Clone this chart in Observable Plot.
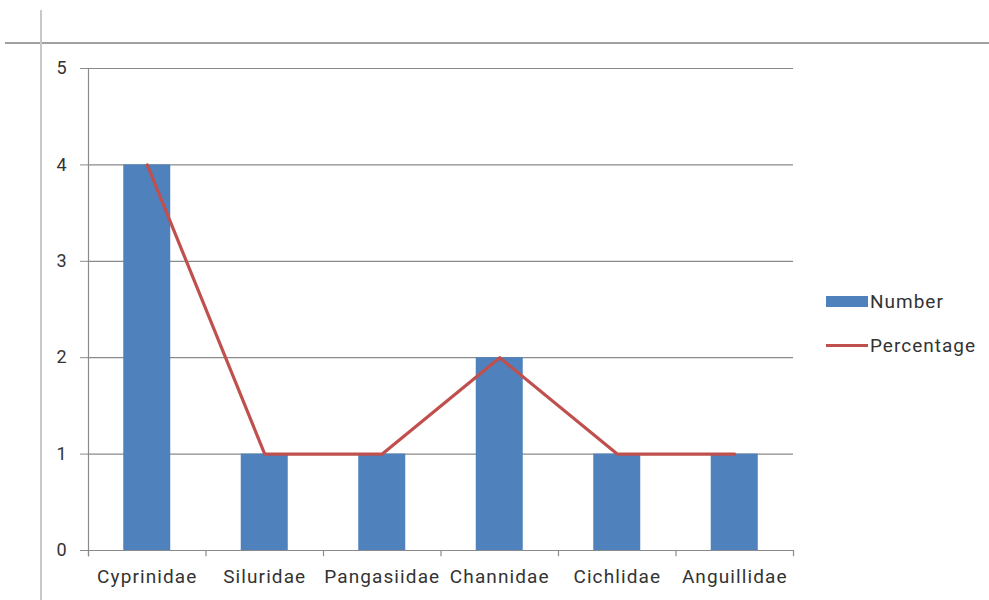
<!DOCTYPE html>
<html>
<head>
<meta charset="utf-8">
<script src="https://cdn.jsdelivr.net/npm/d3@7"></script>
<script src="https://cdn.jsdelivr.net/npm/@observablehq/plot@0.6"></script>
<style>
  html, body { margin: 0; padding: 0; background: #fff; }
  #wrap { position: relative; width: 989px; height: 600px; overflow: hidden; font-family: Roboto, "Noto Sans", sans-serif; }
  #chart { position: absolute; left: 0; top: 0; z-index: 1; }
  #chart g[aria-label="x-axis tick label"] text { letter-spacing: 1.1px; }
  .hline { position: absolute; left: 5px; top: 42px; width: 984px; height: 2px; background: #a0a0a0; z-index: 2; }
  .vline { position: absolute; left: 40px; top: 10px; width: 2px; height: 590px; background: #c8c8c8; z-index: 2; }
  .legend { position: absolute; left: 826px; top: 0; font-size: 19px; color: #333; letter-spacing: 1px; z-index: 3; }
  .legend .item { position: absolute; left: 0; white-space: nowrap; display: flex; align-items: center; height: 24px; }
  .sw { display: inline-block; width: 42px; margin-right: 2px; }
</style>
</head>
<body>
<div id="wrap">
  <div class="hline"></div>
  <div class="vline"></div>
  <div id="chart"></div>
  <div class="legend">
    <div class="item" style="top:289px"><span class="sw" style="height:11px;background:#4F81BD"></span><span>Number</span></div>
    <div class="item" style="top:333px"><span class="sw" style="height:3px;background:#C0504D"></span><span>Percentage</span></div>
  </div>
</div>
<script>
const families = ["Cyprinidae", "Siluridae", "Pangasiidae", "Channidae", "Cichlidae", "Anguillidae"];
const numbers = [4, 1, 1, 2, 1, 1];
const percentages = [4, 1, 1, 2, 1, 1];
const yTicks = [0, 1, 2, 3, 4, 5];

const data = families.map((f, i) => ({family: f, number: numbers[i], percentage: percentages[i]}));

const W = 989, H = 600, mL = 88, mR = 196, mT = 68, mB = 50;
const step = (W - mL - mR) / families.length;
const grey = "#8a8a8a";

const chart = Plot.plot({
  width: W,
  height: H,
  marginLeft: mL,
  marginRight: mR,
  marginTop: mT,
  marginBottom: mB,
  style: {background: "#fff", color: "#333", fontFamily: "Roboto, 'Noto Sans', sans-serif"},
  x: {type: "band", domain: families, paddingInner: 0.6, paddingOuter: 0.3, round: false, label: null},
  y: {domain: [0, 5], label: null},
  marks: [
    Plot.ruleY(yTicks, {stroke: grey, strokeWidth: 1.2}),
    Plot.barY(data, {x: "family", y: "number", fill: "#4F81BD"}),
    Plot.line(data, {x: "family", y: "percentage", stroke: "#C0504D", strokeWidth: 3.2}),
    Plot.ruleX([families[0]], {x: d => d, dx: -step / 2, y1: -0.065, y2: 5, stroke: grey, strokeWidth: 1.2}),
    Plot.ruleX(families, {x: d => d, dx: -step / 2, y1: -0.065, y2: 0, stroke: grey, strokeWidth: 1.2}),
    Plot.ruleX([families[families.length - 1]], {x: d => d, dx: step / 2, y1: -0.065, y2: 0, stroke: grey, strokeWidth: 1.2}),
    Plot.axisY({ticks: yTicks, tickFormat: d => String(d), tickSize: 8, tickPadding: 14, fontSize: 18, stroke: grey, label: null}),
    Plot.axisX({tickSize: 0, tickPadding: 19, fontSize: 19, label: null})
  ]
});
document.getElementById("chart").appendChild(chart);
</script>
</body>
</html>
